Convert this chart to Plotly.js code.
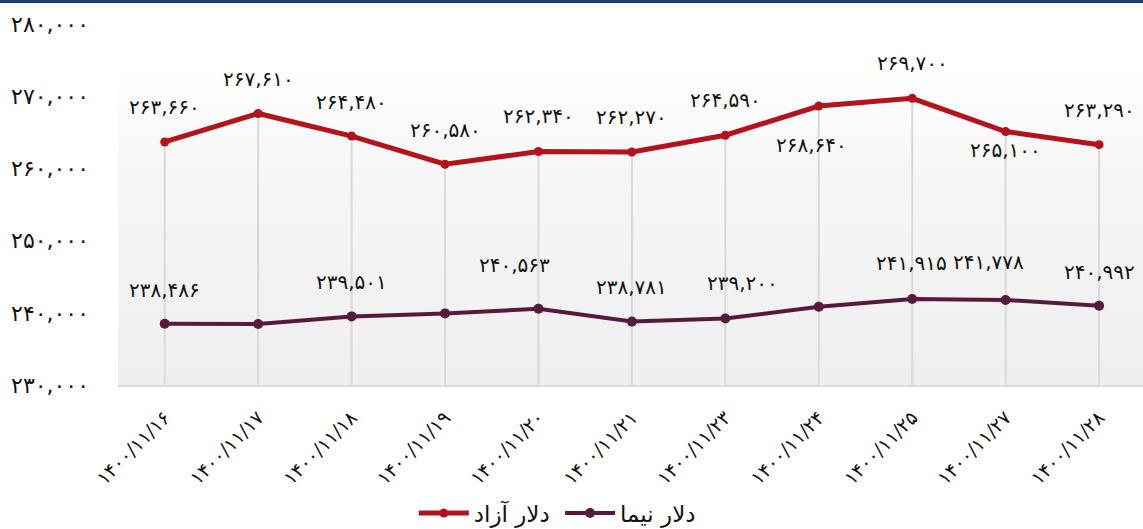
<!DOCTYPE html>
<html>
<head>
<meta charset="utf-8">
<script src="https://cdn.plot.ly/plotly-3.0.1.min.js"></script>
<style>
  html, body { margin: 0; padding: 0; background: #ffffff; }
  #wrap { position: relative; width: 1143px; height: 529px; overflow: hidden; }
  #topbar { position: absolute; left: 0; top: 0; width: 1143px; height: 3px; background: #1c3f75; z-index: 2; }
  #bg { position: absolute; left: 118px; top: 64px; width: 1025px; height: 321px;
        background: linear-gradient(to bottom, #ffffff 0%, #f6f6f6 35%, #efefef 100%); z-index: 0; }
  #chart { position: absolute; left: 0; top: 0; width: 1143px; height: 529px; z-index: 1; }
</style>
</head>
<body>
<div id="wrap">
  <div id="bg"></div>
  <div id="chart"></div>
  <div id="topbar"></div>
</div>
<script>
// ---- data ----
const categories = ["۱۴۰۰/۱۱/۱۶","۱۴۰۰/۱۱/۱۷","۱۴۰۰/۱۱/۱۸","۱۴۰۰/۱۱/۱۹","۱۴۰۰/۱۱/۲۰","۱۴۰۰/۱۱/۲۱","۱۴۰۰/۱۱/۲۳","۱۴۰۰/۱۱/۲۴","۱۴۰۰/۱۱/۲۵","۱۴۰۰/۱۱/۲۷","۱۴۰۰/۱۱/۲۸"];
const freeDollar = [263660, 267610, 264480, 260580, 262340, 262270, 264590, 268640, 269700, 265100, 263290];
const nimaDollar = [238486, 238450, 239501, 239920, 240563, 238781, 239200, 240830, 241915, 241778, 240992];
const seriesNames = ["دلار آزاد", "دلار نیما"];
const yTickValues = [230000, 240000, 250000, 260000, 270000, 280000];

// ---- label display / offsets (style) ----
const freeLabelShiftY = [35, 34, 34, 34, 36, 35, 35, -39, 35, -18, 35];
const freeLabelShiftX = [0, 0, 0, 0, 0, 0, 0, -7, 0, 0, 0];
const nimaLabelShown  = [true, false, true, false, true, true, true, false, true, true, true];
const nimaLabelShiftY = [34, 0, 34, 0, 44, 35, 36, 0, 36, 38, 34];
const nimaLabelShiftX = [0, 0, 0, 0, -24, 0, 17, 0, -1, -17, 0];

const RED = "#b5121b";
const PURPLE = "#581a3c";
const FONT = "DejaVu Sans, Tahoma, sans-serif";

function fa(n) {
  const s = n.toLocaleString("en-US");
  const map = "۰۱۲۳۴۵۶۷۸۹";
  return s.replace(/[0-9]/g, d => map[+d]);
}

// drop lines from the axis floor up to each free-dollar point
const dropX = [], dropY = [];
categories.forEach((c, i) => {
  dropX.push(c, c, null);
  dropY.push(yTickValues[0], freeDollar[i], null);
});

const traces = [
  {
    x: dropX, y: dropY, type: "scatter", mode: "lines",
    line: { color: "#d9d9d9", width: 2 },
    hoverinfo: "skip", showlegend: false
  },
  {
    x: categories, y: freeDollar, name: seriesNames[0], type: "scatter", mode: "lines+markers",
    line: { color: RED, width: 5 }, marker: { color: RED, size: 9 }, legend: "legend"
  },
  {
    x: categories, y: nimaDollar, name: seriesNames[1], type: "scatter", mode: "lines+markers",
    line: { color: PURPLE, width: 4 }, marker: { color: PURPLE, size: 10 }, legend: "legend2"
  }
];

const annotations = [];
categories.forEach((c, i) => {
  annotations.push({
    x: c, y: freeDollar[i], text: fa(freeDollar[i]), showarrow: false,
    yshift: freeLabelShiftY[i], xshift: freeLabelShiftX[i],
    font: { family: FONT, size: 20, color: "#111111" }
  });
  if (nimaLabelShown[i]) {
    annotations.push({
      x: c, y: nimaDollar[i], text: fa(nimaDollar[i]), showarrow: false,
      yshift: nimaLabelShiftY[i], xshift: nimaLabelShiftX[i],
      font: { family: FONT, size: 20, color: "#111111" }
    });
  }
});

const legendBase = {
  orientation: "h", xref: "container", yref: "container",
  xanchor: "left", y: 0.03, yanchor: "middle",
  font: { family: FONT, size: 23, color: "#111111" },
  itemwidth: 50, bgcolor: "rgba(0,0,0,0)"
};

const layout = {
  width: 1143, height: 529,
  margin: { l: 118, r: 0, t: 23.5, b: 144, pad: 0 },
  paper_bgcolor: "rgba(0,0,0,0)",
  plot_bgcolor: "rgba(0,0,0,0)",
  font: { family: FONT, color: "#111111" },
  showlegend: true,
  legend: Object.assign({}, legendBase, { x: 0.362 }),
  legend2: Object.assign({}, legendBase, { x: 0.49 }),
  xaxis: {
    type: "category", range: [-0.5, 10.47],
    showgrid: false, zeroline: false,
    showline: true, linecolor: "#dcdcdc", linewidth: 2,
    ticks: "", tickangle: -45,
    tickfont: { family: FONT, size: 19, color: "#111111" },
    ticklabelstandoff: 12,
    fixedrange: true
  },
  yaxis: {
    range: [230000, 280000],
    showgrid: false, zeroline: false, showline: false, ticks: "",
    tickvals: yTickValues, ticktext: yTickValues.map(fa),
    tickfont: { family: FONT, size: 22, color: "#111111" },
    ticklabelstandoff: 28,
    fixedrange: true
  },
  annotations: annotations
};

Plotly.newPlot("chart", traces, layout, { displayModeBar: false, staticPlot: true });
</script>
</body>
</html>
